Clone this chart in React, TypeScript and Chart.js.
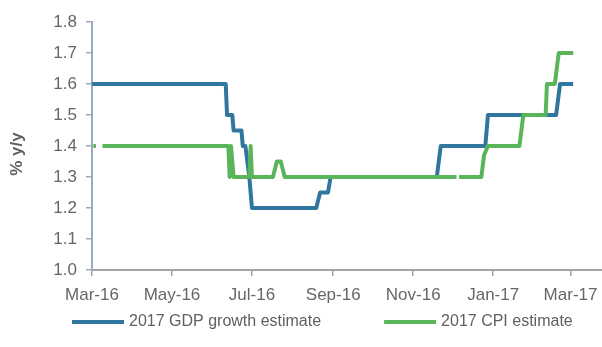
import { useEffect, useRef } from "react";
import { Chart, registerables } from "chart.js";

Chart.register(...registerables);

// ---- data ----
const seriesNames = ["2017 GDP growth estimate", "2017 CPI estimate"];
const yTitle = "% y/y";

const gdpDates = [
  "2016-03-01", "2016-06-11", "2016-06-12", "2016-06-16", "2016-06-17",
  "2016-06-23", "2016-06-24", "2016-06-26", "2016-06-29", "2016-07-01",
  "2016-08-19", "2016-08-22", "2016-08-28", "2016-08-30", "2016-11-19",
  "2016-11-22", "2016-12-26", "2016-12-28", "2017-02-18", "2017-02-21",
  "2017-03-03",
];
const gdpValues = [
  1.6, 1.6, 1.5, 1.5, 1.45,
  1.45, 1.4, 1.4, 1.3, 1.2,
  1.2, 1.25, 1.25, 1.3, 1.3,
  1.4, 1.4, 1.5, 1.5, 1.6,
  1.6,
];

const cpiDates = [
  "2016-03-02", "2016-03-04", "2016-03-06", "2016-03-09", "2016-06-13",
  "2016-06-14", "2016-06-15", "2016-06-16", "2016-06-17", "2016-06-29",
  "2016-06-30", "2016-07-01", "2016-07-17", "2016-07-20", "2016-07-23",
  "2016-07-26", "2016-12-04", "2016-12-05", "2016-12-06", "2016-12-23",
  "2016-12-25", "2016-12-28", "2017-01-21", "2017-01-24", "2017-02-10",
  "2017-02-11", "2017-02-17", "2017-02-20", "2017-03-03",
];
const cpiValues = [
  1.4, 1.4, null, 1.4, 1.4,
  1.3, 1.4, 1.35, 1.3, 1.3,
  1.4, 1.3, 1.3, 1.35, 1.35,
  1.3, 1.3, null, 1.3, 1.3,
  1.37, 1.4, 1.4, 1.5, 1.5,
  1.6, 1.6, 1.7, 1.7,
];

const tickDates = [
  "2016-03-01", "2016-05-01", "2016-07-01", "2016-09-01",
  "2016-11-01", "2017-01-01", "2017-03-01",
];
const tickLabels = ["Mar-16", "May-16", "Jul-16", "Sep-16", "Nov-16", "Jan-17", "Mar-17"];

const xStart = "2016-03-01";
const xEnd = "2017-03-25";
const yMin = 1.0;
const yMax = 1.8;
const yStep = 0.1;

// ---- helpers ----
const DAY = 86400000;
const toDay = (s: string) =>
  Math.round((Date.parse(s + "T00:00:00Z") - Date.parse(xStart + "T00:00:00Z")) / DAY);

const FONT = '"Liberation Sans", Arial, sans-serif';
const BLUE = "#31769e";
const GREEN = "#5ab55a";
const TEXT = "#666666";

const overlayPlugin = {
  id: "overlay",
  afterDraw(chart: any) {
    const { ctx, chartArea } = chart;
    // y axis title
    ctx.save();
    ctx.font = `bold 17px ${FONT}`;
    ctx.fillStyle = "#5f5f5f";
    ctx.translate(chartArea.left - 74.5, (chartArea.top + chartArea.bottom) / 2 + 8);
    ctx.rotate(-Math.PI / 2);
    ctx.textAlign = "center";
    ctx.textBaseline = "middle";
    ctx.fillText(yTitle, 0, 0);
    ctx.restore();

    // legend
    ctx.save();
    ctx.font = `16px ${FONT}`;
    let x = 72;
    const y = 322;
    chart.data.datasets.forEach((ds: any) => {
      ctx.strokeStyle = ds.borderColor;
      ctx.lineWidth = 4;
      ctx.beginPath();
      ctx.moveTo(x, y);
      ctx.lineTo(x + 52, y);
      ctx.stroke();
      x += 52 + 5;
      ctx.fillStyle = "#5f5f5f";
      ctx.textAlign = "left";
      ctx.textBaseline = "middle";
      ctx.fillText(ds.label, x, y);
      x += ctx.measureText(ds.label).width + 63;
    });
    ctx.restore();
  },
};

export default function App() {
  const ref = useRef<HTMLCanvasElement | null>(null);

  useEffect(() => {
    document.body.style.margin = "0";
    const canvas = ref.current;
    if (!canvas) return;

    const gdpData = gdpDates.map((d, i) => ({ x: toDay(d), y: gdpValues[i] }));
    const cpiData = cpiDates.map((d, i) => ({ x: toDay(d), y: cpiValues[i] }));
    const tickValues = tickDates.map(toDay);

    const chart = new Chart(canvas, {
      type: "line",
      data: {
        datasets: [
          {
            label: seriesNames[0],
            data: gdpData as any,
            borderColor: BLUE,
            backgroundColor: BLUE,
            borderWidth: 4,
            pointRadius: 0,
            tension: 0,
            spanGaps: false,
            borderCapStyle: "butt",
            borderJoinStyle: "round",
            order: 1,
          },
          {
            label: seriesNames[1],
            data: cpiData as any,
            borderColor: GREEN,
            backgroundColor: GREEN,
            borderWidth: 4,
            pointRadius: 0,
            tension: 0,
            spanGaps: false,
            borderCapStyle: "butt",
            borderJoinStyle: "round",
            order: 0,
          },
        ],
      },
      options: {
        animation: false,
        responsive: false,
        devicePixelRatio: 1,
        layout: { padding: { top: 22, right: 0, bottom: 37, left: 0 } },
        plugins: {
          legend: { display: false },
          tooltip: { enabled: false },
        },
        scales: {
          x: {
            type: "linear",
            min: 0,
            max: toDay(xEnd),
            afterFit: (s: any) => {
              s.height = 40;
              s.paddingLeft = 0;
              s.paddingRight = 0;
            },
            afterBuildTicks: (s: any) => {
              s.ticks = tickValues.map((v) => ({ value: v }));
            },
            ticks: {
              autoSkip: false,
              maxRotation: 0,
              minRotation: 0,
              padding: 9,
              color: TEXT,
              font: { family: FONT, size: 17 },
              callback: (v: any) => {
                const i = tickValues.indexOf(Number(v));
                return i >= 0 ? tickLabels[i] : "";
              },
            },
            grid: {
              drawOnChartArea: false,
              drawTicks: true,
              tickLength: 6,
              color: "#a3a3a3",
              lineWidth: 1.5,
            },
            border: { color: "#a3a3a3", width: 2 },
          },
          y: {
            min: yMin,
            max: yMax,
            afterFit: (s: any) => {
              s.width = 92;
            },
            ticks: {
              stepSize: yStep,
              padding: 9,
              color: TEXT,
              font: { family: FONT, size: 17 },
              callback: (v: any) => Number(v).toFixed(1),
            },
            grid: {
              drawOnChartArea: false,
              drawTicks: true,
              tickLength: 6,
              color: "#9aabbd",
              lineWidth: 1.5,
            },
            border: { color: "#9aabbd", width: 2 },
          },
        },
      },
      plugins: [overlayPlugin],
    });

    return () => chart.destroy();
  }, []);

  return (
    <canvas
      ref={ref}
      width={602}
      height={347}
      style={{ display: "block", width: 602, height: 347 }}
    />
  );
}
